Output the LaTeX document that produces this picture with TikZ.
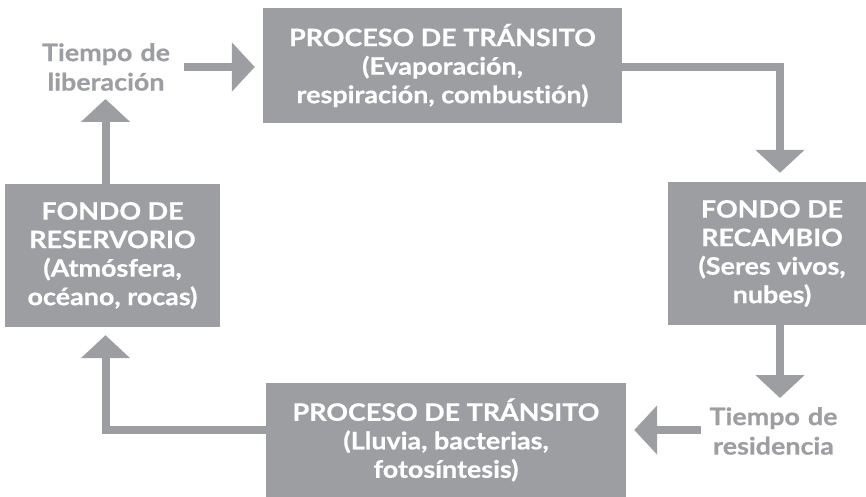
\documentclass[tikz,border=0pt]{standalone}
\usepackage{fontspec}
\setmainfont{Lato}[Ligatures={NoCommon,NoRare,NoContextual},BoldFeatures={FakeStretch=1.12,FakeBold=0.6}]
\usetikzlibrary{arrows.meta}
\definecolor{cgray}{RGB}{157,158,162}
\tikzset{
  box/.style={rectangle, fill=cgray, text=white, align=center, inner sep=0pt,
    font={\fontsize{24}{28.5}\selectfont\bfseries}},
  lbl/.style={text=cgray, align=center, inner sep=0pt, text width=140pt,
    font={\fontsize{24}{29.5}\selectfont\bfseries}},
  arr/.style={draw=cgray, line width=8pt, line join=miter,
    -{Triangle[width=48pt,length=23pt]}}
}
\begin{document}
\begin{tikzpicture}[x=1pt,y=-1pt]
\useasboundingbox (0,0) rectangle (866,497);
\node[box, minimum width=359pt, minimum height=115pt] (top) at (442.5,65.5)
  {PROCESO DE TRÁNSITO\\(Evaporación,\\respiración, combustión)};
\node[box, minimum width=208pt, minimum height=143pt] (rec) at (772,253.5)
  {FONDO DE\\RECAMBIO\\(Seres vivos,\\nubes)};
\node[box, minimum width=215pt, minimum height=143pt] (ref) at (112.5,255.5)
  {FONDO DE\\RESERVORIO\\(Atmósfera,\\océano, rocas)};
\node[box, minimum width=360pt, minimum height=114pt] (bot) at (446,440)
  {PROCESO DE TRÁNSITO\\(Lluvia, bacterias,\\fotosíntesis)};
\node[lbl] (lib) at (106,67) {Tiempo de\\liberación};
\node[lbl] (res) at (773.5,431) {Tiempo de\\residencia};
\coordinate (libStart) at (184,67);
\coordinate (libTip) at (105.5,99);
\coordinate (resTip) at (780,398);
\coordinate (resStart) at (701,430);
\draw[arr, shorten >=8pt] (libStart) -- (libStart -| top.west);
\draw[arr, shorten >=9pt] ([yshift=-1.5pt]top.east) -| ([xshift=8pt]rec.north);
\draw[arr] ([xshift=8pt]rec.south) -- (resTip);
\draw[arr, shorten >=8pt] (resStart) -- (resStart -| bot.east);
\draw[arr, shorten >=8pt] ([yshift=10pt]bot.west) -| ([xshift=-7pt]ref.south);
\draw[arr] ([xshift=-7pt]ref.north) -- (libTip);
\end{tikzpicture}
\end{document}
